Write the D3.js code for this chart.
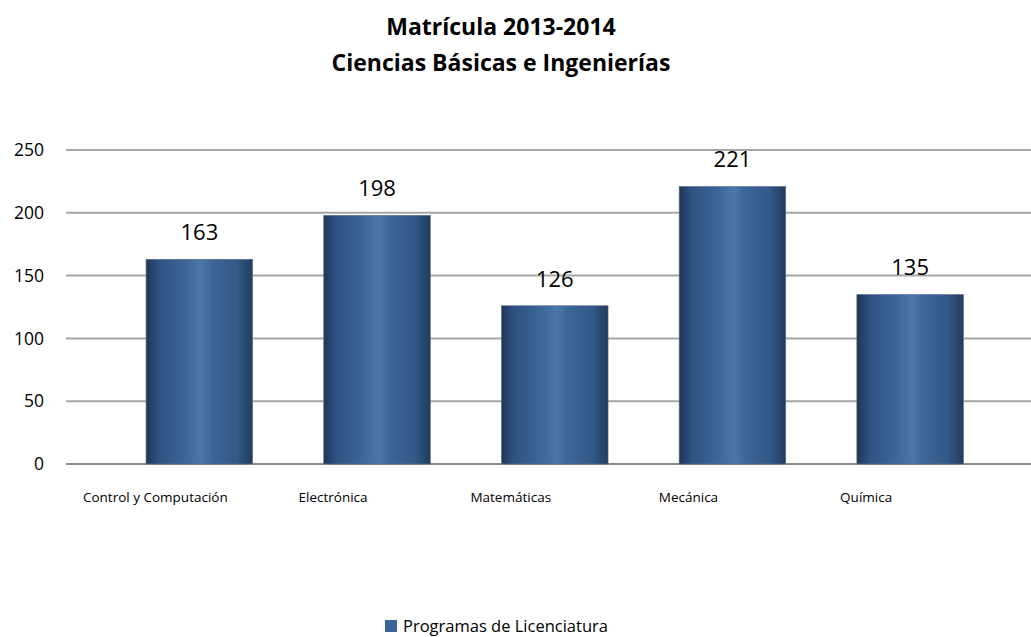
<!DOCTYPE html>
<html>
<head>
<meta charset="utf-8">
<script src="https://cdn.jsdelivr.net/npm/d3@7"></script>
<style>
  body { margin: 0; background: #fff; }
  text { font-family: "Open Sans", Calibri, sans-serif; fill: #000; }
</style>
</head>
<body>
<svg id="chart" width="1031" height="637"></svg>
<script>
// Data
const categories = ["Control y Computación", "Electrónica", "Matemáticas", "Mecánica", "Química"];
const values = [163, 198, 126, 221, 135];
const yTicks = [0, 50, 100, 150, 200, 250];
const titleLines = ["Matrícula 2013-2014", "Ciencias Básicas e Ingenierías"];
const seriesName = "Programas de Licenciatura";

const svg = d3.select("#chart");
const plotTop = 150, plotBottom = 464;
const gridLeft = 66, gridRight = 1031;

const x = d3.scaleBand()
    .domain(categories)
    .range([110.5, 999])
    .paddingInner(0.4)
    .paddingOuter(0.2);

const y = d3.scaleLinear()
    .domain([0, 250])
    .range([plotBottom, plotTop]);

// Bar gradient (cylinder-like shading)
const defs = svg.append("defs");
const grad = defs.append("linearGradient")
    .attr("id", "barGrad")
    .attr("x1", "0%").attr("x2", "100%").attr("y1", "0%").attr("y2", "0%");
[
    ["0%", "#1f3657"],
    ["12%", "#2f5282"],
    ["35%", "#3b6596"],
    ["52%", "#4c77aa"],
    ["62%", "#3d6698"],
    ["85%", "#325987"],
    ["100%", "#223b5e"]
].forEach(s => grad.append("stop").attr("offset", s[0]).attr("stop-color", s[1]));

// Gridlines
svg.append("g")
    .selectAll("line")
    .data(yTicks)
    .join("line")
    .attr("x1", gridLeft)
    .attr("x2", gridRight)
    .attr("y1", d => y(d))
    .attr("y2", d => y(d))
    .attr("stroke", d => d === 0 ? "#8c8c8c" : "#a6a6a6")
    .attr("stroke-width", 2);

// Y axis labels
svg.append("g")
    .selectAll("text")
    .data(yTicks)
    .join("text")
    .attr("x", 44)
    .attr("y", d => y(d))
    .attr("dy", "0.35em")
    .attr("text-anchor", "end")
    .style("font-size", "17.5px")
    .text(d => d);

// Bars
svg.append("g")
    .selectAll("rect")
    .data(values)
    .join("rect")
    .attr("x", (d, i) => x(categories[i]))
    .attr("y", d => y(d))
    .attr("width", x.bandwidth())
    .attr("height", d => y(0) - y(d))
    .attr("fill", "url(#barGrad)")
    .attr("stroke", "#5c7290")
    .attr("stroke-width", 0.6);

// Value labels
svg.append("g")
    .selectAll("text")
    .data(values)
    .join("text")
    .attr("x", (d, i) => x(categories[i]) + x.bandwidth() / 2)
    .attr("y", d => y(d) - 19)
    .attr("text-anchor", "middle")
    .style("font-size", "22px")
    .text(d => d);

// Category labels (shifted left like the original)
svg.append("g")
    .selectAll("text")
    .data(categories)
    .join("text")
    .attr("x", d => x(d) + x.bandwidth() / 2 - 44)
    .attr("y", 497)
    .attr("dy", "0.35em")
    .attr("text-anchor", "middle")
    .style("font-size", "13.5px")
    .text(d => d);

// Title
svg.append("g")
    .selectAll("text")
    .data(titleLines)
    .join("text")
    .attr("x", 501)
    .attr("y", (d, i) => 27 + i * 36)
    .attr("dy", "0.35em")
    .attr("text-anchor", "middle")
    .style("font-size", "23px")
    .style("font-weight", "bold")
    .text(d => d);

// Legend
const legend = svg.append("g").attr("transform", "translate(385, 626)");
legend.append("rect")
    .attr("x", 0)
    .attr("y", -6)
    .attr("width", 12)
    .attr("height", 12)
    .attr("fill", "#3b6597");
legend.append("text")
    .attr("x", 18)
    .attr("y", 0)
    .attr("dy", "0.35em")
    .style("font-size", "16.5px")
    .text(seriesName);
</script>
</body>
</html>
